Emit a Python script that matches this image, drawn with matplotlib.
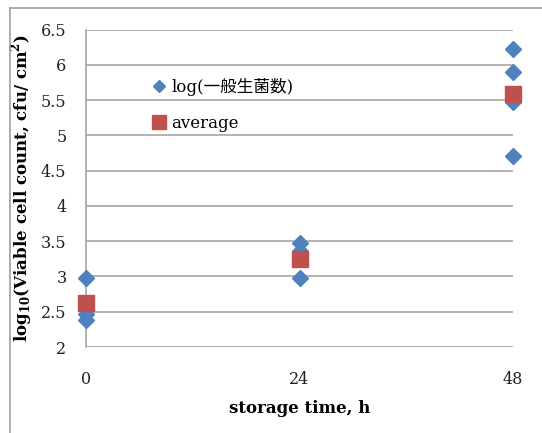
import matplotlib
matplotlib.use("Agg")
import matplotlib.pyplot as plt
from matplotlib.lines import Line2D

plt.rcParams["font.family"] = ["DejaVu Serif", "Noto Sans CJK JP"]
plt.rcParams["mathtext.fontset"] = "custom"
plt.rcParams["mathtext.rm"] = "DejaVu Serif"
plt.rcParams["mathtext.bf"] = "DejaVu Serif:bold"

# raw log counts per storage time
time_raw = [0, 0, 0, 24, 24, 24, 48, 48, 48, 48]
log_raw = [2.98, 2.47, 2.38, 3.48, 3.36, 2.98, 6.23, 5.90, 5.47, 4.71]

# averages
time_avg = [0, 24, 48]
log_avg = [2.63, 3.25, 5.58]

labels = ["log(一般生菌数)", "average"]
xticks = [0, 24, 48]
yticks = [2, 2.5, 3, 3.5, 4, 4.5, 5, 5.5, 6, 6.5]

fig = plt.figure(figsize=(5.42, 4.33), dpi=100)
ax = fig.add_axes([86 / 542, 1 - 347 / 433, 427 / 542, 317.5 / 433])

grid_c = "#a6a6a6"
ax.plot(time_raw, log_raw, "D", color="#4f81bd", ms=8.5, mec="#4f81bd",
        clip_on=False, zorder=3, label=labels[0])
ax.plot(time_avg, log_avg, "s", color="#c0504d", ms=11, mec="#c0504d",
        clip_on=False, zorder=4, label=labels[1])

ax.set_xlim(0, 48)
ax.set_ylim(2, 6.5)
ax.set_xticks(xticks)
ax.set_yticks(yticks)
ax.set_yticklabels([f"{v:g}" for v in yticks])
ax.yaxis.grid(True, color=grid_c, lw=1.2)
ax.set_axisbelow(True)
for s in ["top", "right", "bottom"]:
    ax.spines[s].set_visible(False)
ax.spines["left"].set_color(grid_c)
ax.spines["left"].set_linewidth(1.2)
ax.tick_params(length=0, labelsize=11.5, colors="#222222")
ax.tick_params(axis="y", pad=14)
ax.tick_params(axis="x", pad=17)

ax.set_xlabel("storage time, h", fontsize=12, fontweight="bold", labelpad=9)
ax.set_ylabel(r"log$_{\mathbf{10}}$(Viable cell count, cfu/ cm$^{\mathbf{2}}$)",
              fontsize=12, fontweight="bold", labelpad=4)

handles = [Line2D([], [], marker="D", ls="", color="#4f81bd", ms=6),
           Line2D([], [], marker="s", ls="", color="#c0504d", ms=10)]
ax.legend(handles, labels, loc="upper left", bbox_to_anchor=(0.14, 0.868),
          frameon=False, fontsize=12, handlelength=0.8, handletextpad=0.35,
          labelspacing=1.15, borderaxespad=0)

# outer chart border
fig.add_artist(Line2D([10 / 542, 10 / 542], [0, 1 - 8 / 433],
                      color="#a0a0a0", lw=1.2))
fig.add_artist(Line2D([10 / 542, 1], [1 - 8 / 433, 1 - 8 / 433],
                      color="#a0a0a0", lw=1.2))

fig.savefig("out.png", dpi=100)
